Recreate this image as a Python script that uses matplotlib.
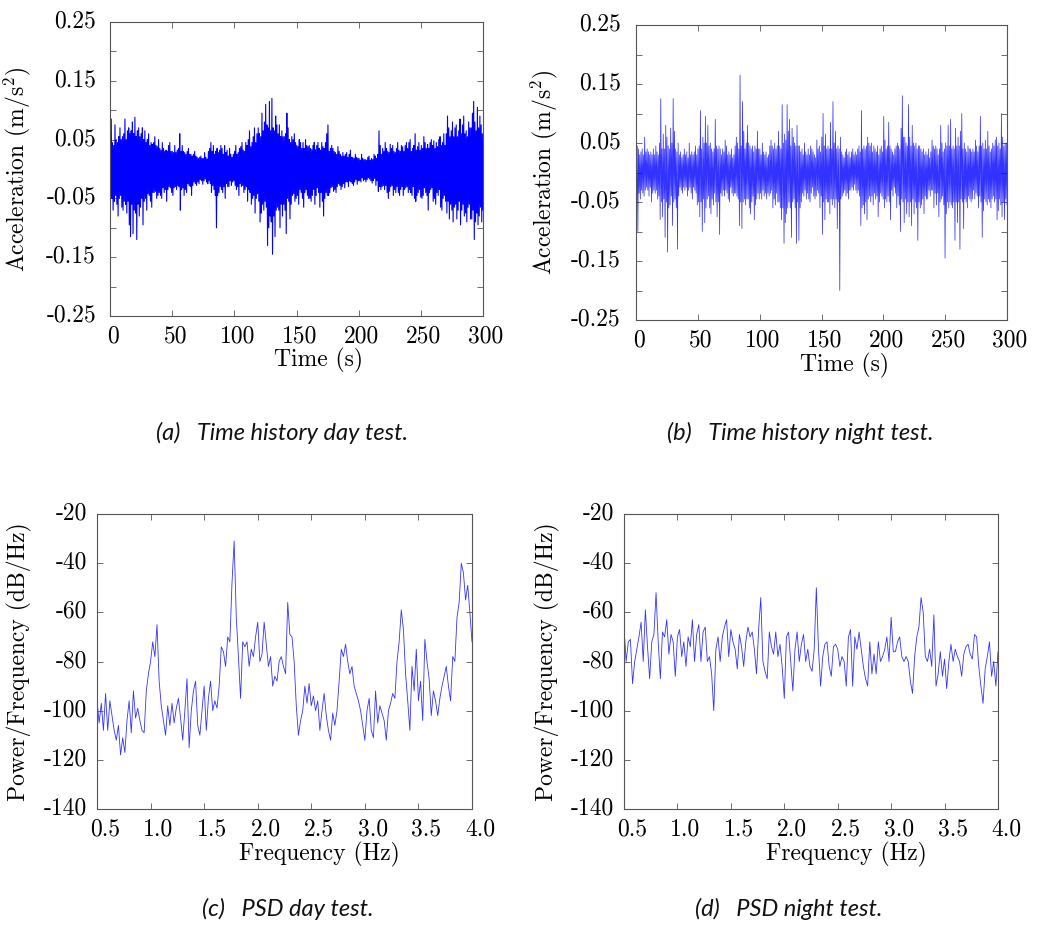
import numpy as np
import matplotlib.pyplot as plt
from matplotlib.transforms import ScaledTranslation

plt.rcParams['font.family'] = 'cmr10'
plt.rcParams['mathtext.fontset'] = 'cm'
plt.rcParams['axes.unicode_minus'] = False
plt.rcParams['axes.formatter.use_mathtext'] = True
plt.rcParams['path.simplify'] = False

# acceleration, in 1e-3 m/s^2, two samples per second
acc_day = [
    60, -45, 85, -50, 45, -70, 40, -55, 75, -45,
    50, -60, 45, -80, 55, -50, 70, -45, 50, -65,
    55, -70, 60, -55, 85, -60, 50, -75, 65, -55,
    70, -95, 60, -115, 65, -60, 80, -110, 60, -70,
    88, -75, 55, -120, 65, -60, 70, -80, 55, -65,
    60, -50, 70, -95, 50, -55, 65, -50, 45, -70,
    50, -42, 60, -45, 40, -55, 45, -65, 42, -40,
    45, -40, 55, -38, 40, -50, 38, -45, 50, -40,
    35, -45, 32, -50, 45, -32, 35, -40, 30, -35,
    32, -55, 30, -35, 40, -30, 45, -32, 30, -40,
    30, -45, 28, -32, 40, -30, 28, -35, 32, -28,
    35, -30, 60, -70, 30, -35, 40, -32, 30, -45,
    28, -35, 25, -40, 30, -25, 35, -28, 25, -30,
    25, -45, 22, -28, 25, -22, 30, -25, 22, -28,
    20, -22, 18, -25, 20, -18, 22, -20, 18, -26,
    18, -20, 28, -17, 20, -22, 17, -25, 30, -20,
    35, -25, 45, -40, 30, -28, 40, -35, 25, -45,
    30, -100, 35, -45, 28, -40, 32, -30, 40, -35,
    35, -40, 25, -30, 40, -50, 28, -25, 32, -30,
    22, -30, 35, -20, 25, -28, 20, -22, 25, -20,
    30, -28, 40, -35, 25, -30, 28, -45, 35, -25,
    38, -30, 45, -28, 32, -40, 30, -35, 45, -30,
    40, -55, 50, -35, 65, -40, 38, -60, 45, -50,
    55, -45, 70, -75, 45, -50, 60, -42, 70, -55,
    60, -90, 55, -75, 95, -60, 65, -70, 80, -55,
    110, -65, 75, -130, 70, -100, 115, -80, 65, -90,
    120, -145, 70, -80, 65, -115, 90, -70, 75, -65,
    60, -70, 75, -100, 55, -60, 65, -80, 55, -60,
    55, -70, 60, -110, 95, -50, 70, -55, 50, -85,
    45, -60, 55, -45, 50, -42, 60, -55, 45, -50,
    40, -45, 38, -60, 50, -35, 45, -40, 35, -50,
    45, -65, 35, -40, 50, -35, 40, -45, 38, -50,
    40, -50, 35, -55, 33, -45, 40, -35, 45, -60,
    33, -45, 40, -32, 45, -40, 35, -65, 32, -40,
    45, -55, 38, -80, 35, -50, 45, -40, 60, -45,
    75, -45, 30, -40, 35, -32, 40, -30, 35, -38,
    30, -35, 28, -40, 25, -30, 38, -25, 30, -28,
    25, -35, 22, -30, 28, -25, 22, -32, 25, -22,
    28, -22, 20, -30, 25, -20, 32, -22, 20, -25,
    20, -28, 18, -22, 25, -18, 20, -26, 18, -20,
    18, -20, 15, -22, 25, -15, 18, -20, 16, -18,
    16, -22, 15, -18, 20, -15, 22, -17, 15, -20,
    18, -24, 16, -20, 25, -16, 22, -28, 18, -20,
    25, -38, 65, -30, 40, -35, 25, -30, 35, -28,
    30, -35, 45, -28, 35, -40, 30, -50, 28, -38,
    42, -30, 35, -28, 40, -45, 30, -35, 28, -40,
    35, -30, 45, -40, 32, -45, 30, -35, 40, -30,
    38, -45, 30, -35, 40, -32, 45, -30, 35, -40,
    45, -35, 50, -40, 30, -45, 35, -30, 40, -50,
    60, -55, 32, -45, 38, -40, 45, -35, 32, -48,
    40, -50, 35, -45, 55, -32, 45, -40, 35, -45,
    42, -70, 35, -40, 45, -35, 50, -32, 40, -55,
    48, -50, 35, -60, 45, -40, 38, -45, 50, -35,
    55, -65, 40, -70, 45, -50, 60, -45, 40, -55,
    60, -75, 90, -55, 70, -85, 55, -60, 65, -70,
    80, -90, 55, -65, 70, -60, 75, -85, 55, -70,
    65, -55, 85, -95, 60, -70, 75, -60, 90, -80,
    60, -75, 65, -90, 55, -65, 80, -60, 70, -85,
    70, -85, 95, -70, 115, -120, 80, -90, 65, -75,
    105, -95, 70, -80, 90, -65, 75, -90, 60, -70,
]

acc_night = [
    110, -60, 45, -100, 40, -35, 30, -45, 35, -30,
    40, -35, 30, -40, 60, -30, 35, -25, 40, -30,
    35, -40, 30, -25, 35, -50, 30, -35, 40, -30,
    30, -35, 45, -30, 35, -45, 30, -40, 50, -80,
    125, -50, 40, -75, 65, -45, 40, -110, 80, -50,
    60, -135, 45, -60, 40, -55, 75, -40, 50, -90,
    125, -50, 70, -45, 40, -60, 35, -130, 50, -40,
    30, -25, 35, -30, 25, -35, 30, -25, 40, -30,
    30, -25, 35, -40, 25, -30, 50, -25, 30, -35,
    35, -45, 30, -25, 35, -30, 45, -35, 30, -55,
    40, -50, 45, -75, 105, -50, 40, -100, 60, -45,
    50, -85, 95, -60, 50, -45, 80, -40, 45, -60,
    50, -70, 40, -45, 35, -55, 40, -35, 90, -50,
    45, -75, 40, -50, 45, -105, 40, -35, 30, -40,
    40, -30, 35, -40, 55, -30, 45, -35, 30, -45,
    35, -50, 30, -25, 40, -35, 25, -40, 30, -35,
    45, -35, 60, -40, 50, -45, 40, -90, 165, -50,
    45, -95, 120, -50, 70, -45, 40, -55, 50, -45,
    80, -45, 50, -60, 45, -70, 40, -50, 45, -40,
    35, -80, 45, -55, 40, -45, 70, -35, 40, -45,
    40, -35, 30, -45, 50, -30, 35, -40, 30, -35,
    35, -45, 25, -35, 30, -40, 45, -35, 55, -30,
    45, -60, 40, -45, 50, -55, 40, -35, 45, -50,
    70, -50, 45, -60, 40, -80, 115, -60, 50, -120,
    65, -85, 55, -70, 115, -60, 70, -50, 90, -60,
    45, -110, 75, -50, 60, -45, 50, -60, 45, -120,
    80, -50, 45, -115, 45, -60, 35, -50, 40, -35,
    30, -40, 50, -30, 35, -45, 30, -35, 40, -45,
    30, -50, 45, -35, 40, -25, 35, -40, 30, -45,
    25, -40, 55, -30, 40, -35, 45, -60, 35, -40,
    60, -105, 100, -50, 45, -80, 65, -45, 40, -50,
    45, -50, 40, -70, 85, -45, 40, -55, 120, -45,
    50, -60, 70, -45, 40, -95, 45, -50, 40, -200,
    60, -45, 35, -40, 30, -35, 25, -30, 35, -40,
    40, -35, 30, -45, 35, -30, 25, -30, 35, -25,
    40, -30, 30, -20, 35, -30, 30, -35, 40, -30,
    45, -40, 35, -90, 105, -60, 40, -55, 45, -70,
    40, -50, 45, -80, 60, -45, 50, -40, 45, -50,
    50, -40, 35, -55, 45, -35, 40, -45, 35, -40,
    45, -75, 30, -50, 40, -35, 45, -40, 35, -45,
    95, -60, 55, -45, 40, -50, 45, -40, 85, -50,
    45, -80, 40, -30, 35, -40, 30, -25, 40, -35,
    45, -60, 50, -40, 45, -55, 40, -100, 75, -45,
    130, -50, 60, -85, 60, -45, 50, -70, 45, -50,
    115, -75, 60, -50, 45, -90, 80, -45, 50, -70,
    45, -50, 50, -60, 40, -115, 45, -50, 45, -60,
    40, -55, 35, -45, 40, -70, 30, -40, 35, -45,
    30, -45, 40, -30, 25, -40, 35, -30, 55, -30,
    45, -60, 40, -35, 45, -55, 40, -35, 30, -75,
    40, -50, 80, -45, 50, -40, 35, -55, 40, -145,
    50, -70, 45, -50, 80, -60, 45, -50, 90, -55,
    40, -60, 45, -50, 40, -115, 75, -50, 45, -85,
    60, -50, 45, -130, 70, -45, 100, -50, 40, -95,
    50, -45, 40, -50, 35, -60, 45, -40, 40, -45,
    40, -50, 35, -45, 40, -30, 35, -45, 55, -35,
    45, -40, 35, -60, 45, -40, 95, -50, 45, -110,
    50, -65, 40, -45, 55, -50, 40, -55, 70, -45,
    45, -50, 35, -60, 40, -45, 50, -40, 45, -50,
    55, -45, 60, -80, 45, -65, 50, -45, 40, -55,
    100, -75, 60, -50, 45, -80, 50, -45, 50, -55,
]

# PSD in dB/Hz, 0.5 to 4.0 Hz every 0.02 Hz
psd_day = [
    -96, -105, -97, -108, -93, -108, -96, -102, -108, -112,
    -106, -118, -111, -117, -104, -96, -109, -92, -103, -99,
    -104, -108, -109, -92, -85, -80, -72, -78, -65, -88,
    -98, -104, -110, -98, -106, -97, -105, -99, -95, -103,
    -112, -100, -87, -115, -100, -92, -88, -106, -110, -100,
    -90, -108, -95, -88, -100, -96, -99, -90, -74, -76,
    -82, -70, -72, -48, -31, -62, -78, -95, -72, -74,
    -72, -82, -75, -78, -70, -64, -80, -77, -64, -73,
    -82, -78, -90, -86, -88, -80, -78, -82, -85, -56,
    -69, -70, -80, -98, -110, -104, -100, -90, -97, -89,
    -98, -94, -100, -96, -108, -100, -93, -102, -108, -112,
    -101, -106, -100, -88, -75, -78, -73, -80, -85, -82,
    -90, -93, -96, -100, -106, -112, -100, -95, -108, -111,
    -92, -105, -98, -101, -104, -112, -100, -97, -93, -95,
    -80, -72, -59, -67, -85, -96, -108, -82, -92, -75,
    -96, -88, -104, -71, -80, -87, -102, -92, -96, -102,
    -95, -90, -86, -82, -90, -96, -78, -80, -62, -56,
    -40, -44, -55, -49, -60, -72,
]

psd_night = [
    -66, -80, -72, -71, -89, -80, -75, -70, -64, -80,
    -59, -74, -87, -72, -69, -52, -72, -87, -68, -70,
    -63, -77, -69, -72, -86, -70, -67, -78, -72, -82,
    -70, -74, -63, -80, -69, -65, -80, -68, -66, -80,
    -78, -85, -100, -75, -70, -80, -70, -66, -63, -78,
    -67, -72, -75, -83, -69, -74, -82, -72, -66, -70,
    -68, -75, -85, -67, -54, -80, -84, -87, -68, -74,
    -77, -68, -78, -73, -82, -95, -70, -68, -80, -92,
    -75, -68, -80, -73, -69, -80, -75, -82, -84, -75,
    -50, -75, -90, -78, -73, -72, -82, -86, -74, -73,
    -75, -82, -78, -80, -90, -70, -67, -90, -70, -75,
    -68, -75, -82, -87, -90, -72, -85, -77, -85, -72,
    -80, -78, -75, -70, -80, -62, -76, -76, -72, -70,
    -78, -80, -78, -80, -88, -93, -78, -70, -66, -54,
    -60, -78, -80, -75, -82, -61, -90, -85, -76, -86,
    -79, -91, -80, -73, -80, -75, -78, -80, -86, -77,
    -74, -73, -77, -79, -69, -70, -82, -90, -97, -83,
    -78, -72, -86, -80, -90, -76,
]

acc_ticks = [-0.25, -0.2, -0.15, -0.1, -0.05, 0.0, 0.05, 0.1, 0.15, 0.2, 0.25]
acc_labels = ['-0.25', '', '-0.15', '', '-0.05', '', '0.05', '', '0.15', '', '0.25']
time_ticks = [0, 50, 100, 150, 200, 250, 300]
psd_ticks = [-140, -120, -100, -80, -60, -40, -20]
freq_ticks = [0.5, 1.0, 1.5, 2.0, 2.5, 3.0, 3.5, 4.0]

captions = ['(a)   Time history day test.', '(b)   Time history night test.',
            '(c)   PSD day test.', '(d)   PSD night test.']

fig = plt.figure(figsize=(10.39, 9.36), dpi=100)
W, H = 1039, 936


def box(l, t, r, b):
    return [l / W, 1 - b / H, (r - l) / W, (b - t) / H]


def style(ax, xoff, ylab_x, xlab_x, ypad):
    ax.tick_params(direction='in', top=True, right=True, length=4, width=0.6,
                   color='#555555', labelsize=17, pad=7)
    ax.tick_params(axis='y', pad=ypad)
    for s in ax.spines.values():
        s.set_color('#555555')
        s.set_linewidth(0.8)
    for lab in ax.get_xticklabels():
        lab.set_transform(lab.get_transform() + ScaledTranslation(xoff / 100, 0, fig.dpi_scale_trans))
    for lab in ax.get_yticklabels():
        lab.set_transform(lab.get_transform() + ScaledTranslation(0, 3 / 100, fig.dpi_scale_trans))
    ax.yaxis.set_label_coords(ylab_x, 0.5)
    ax.xaxis.set_label_coords(xlab_x, -0.11)


axes = [fig.add_axes(box(110, 22, 483, 316)), fig.add_axes(box(636, 25, 1007, 320)),
        fig.add_axes(box(97, 514, 472, 809)), fig.add_axes(box(624, 514, 998, 809))]

for ax, acc, lw, al in zip(axes[:2], [acc_day, acc_night], [0.8, 0.55], [1.0, 0.8]):
    a = np.array(acc) / 1000.0
    t = np.linspace(0, 300, len(a))
    ax.plot(t, a, color='#0000ff', lw=lw, alpha=al)
    ax.set_xlim(0, 300)
    ax.set_ylim(-0.25, 0.25)
    ax.set_yticks(acc_ticks)
    ax.set_yticklabels(acc_labels)
    ax.set_xticks(time_ticks)
    ax.set_xticklabels([str(v) for v in time_ticks])
    ax.set_xlabel('Time (s)', fontsize=17)
    ax.set_ylabel('Acceleration (m/s$^2$)', fontsize=17)

for ax, psd in zip(axes[2:], [psd_day, psd_night]):
    f = np.linspace(0.5, 4.0, len(psd))
    ax.plot(f, psd, color='#3333ff', lw=0.6)
    ax.set_xlim(0.5, 4.0)
    ax.set_ylim(-140, -20)
    ax.set_yticks(psd_ticks)
    ax.set_yticklabels([str(v) for v in psd_ticks])
    ax.set_xticks(freq_ticks)
    ax.set_xticklabels(['%.1f' % v for v in freq_ticks])
    ax.set_xlabel('Frequency (Hz)', fontsize=17)
    ax.set_ylabel('Power/Frequency (dB/Hz)', fontsize=17)

style(axes[0], 3, -0.206, 0.560, 10)
style(axes[1], 3, -0.205, 0.563, 11)
style(axes[2], 8, -0.173, 0.592, 7)
style(axes[3], 8, -0.171, 0.594, 7)

cap_pos = [(282, 433), (800, 433), (288, 909), (789, 909)]
for (cx, cy), txt in zip(cap_pos, captions):
    fig.text(cx / W, 1 - cy / H, txt, ha='center', va='center', fontsize=17,
             family='Lato', style='italic', color='#111111')

fig.savefig('out.png', dpi=100)
